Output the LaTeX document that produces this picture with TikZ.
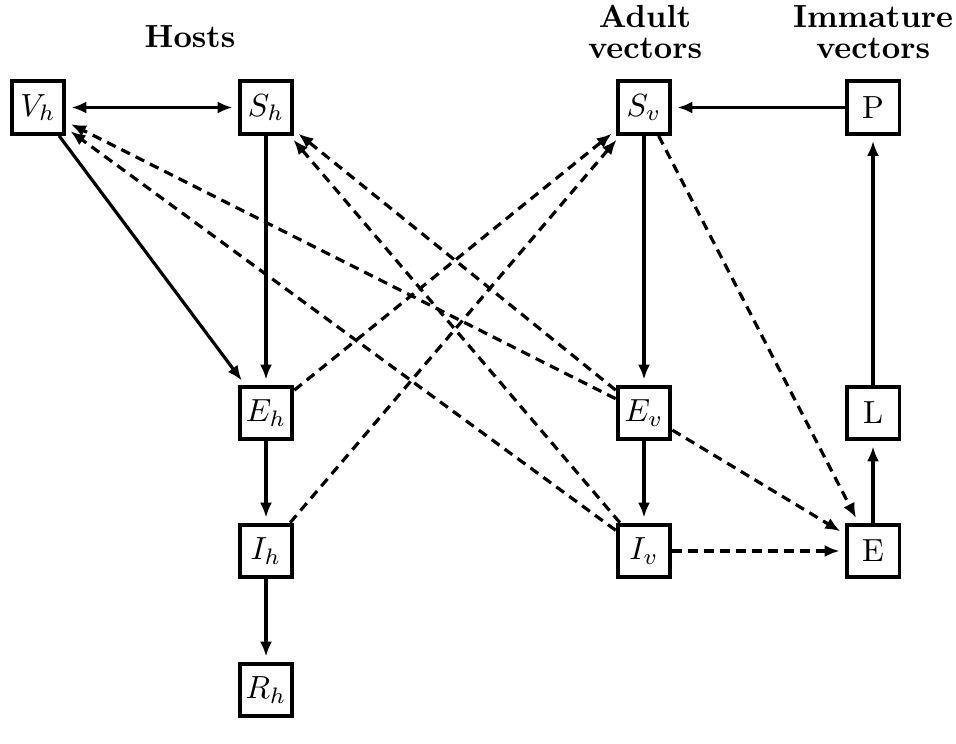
\documentclass[tikz,border=0pt]{standalone}
\usetikzlibrary{arrows.meta}
\begin{document}
\begin{tikzpicture}[x=0.3125pt,y=-0.3125pt,
  box/.style={draw,line width=1.2pt,minimum size=16.5pt,inner sep=0pt,fill=white},
  flow/.style={line width=1pt,-{Latex[length=4.7pt,width=3.8pt]},shorten >=1.6pt},
  infl/.style={flow,dash pattern=on 3pt off 2pt},
  head/.style={font=\bfseries,align=center}]
\useasboundingbox (0,0) rectangle (956,743);
\node[box] (Vh) at (38,107.5) {$V_h$};
\node[box] (Sh) at (266,107.5) {$S_h$};
\node[box] (Eh) at (266,413) {$E_h$};
\node[box] (Ih) at (266,551) {$I_h$};
\node[box] (Rh) at (266,690) {$R_h$};
\node[box] (Sv) at (644,107.5) {$S_v$};
\node[box] (Ev) at (644,413) {$E_v$};
\node[box] (Iv) at (644,551) {$I_v$};
\node[box] (P) at (873,107.5) {P};
\node[box] (L) at (873,413) {L};
\node[box] (E) at (873,551) {E};
\node[head] (hosts) at (190,37) {Hosts};
\node[head] (adult) at (645,32) {Adult\\[-2.4pt]vectors};
\node[head] (imm) at (873,32) {Immature\\[-2.4pt]vectors};
% solid flows
\draw[flow,shorten <=1.6pt,{Latex[length=4.7pt,width=3.8pt]}-{Latex[length=4.7pt,width=3.8pt]}] (Vh) -- (Sh);
\draw[flow] (Vh) -- (Eh);
\draw[flow] (Sh) -- (Eh);
\draw[flow] (Eh) -- (Ih);
\draw[flow] (Ih) -- (Rh);
\draw[flow] (P) -- (Sv);
\draw[flow] (Sv) -- (Ev);
\draw[flow] (Ev) -- (Iv);
\draw[flow] (E) -- (L);
\draw[flow] (L) -- (P);
% dashed influences
\draw[infl] (Eh) -- (Sv);
\draw[infl] (Ih) -- (Sv);
\draw[infl] (Ev) -- (Vh);
\draw[infl] (Iv) -- (Vh);
\draw[infl] (Ev) -- (Sh);
\draw[infl] (Iv) -- (Sh);
\draw[infl] (Sv) -- (E);
\draw[infl] (Ev) -- (E);
\draw[infl] (Iv) -- (E);
\end{tikzpicture}
\end{document}
